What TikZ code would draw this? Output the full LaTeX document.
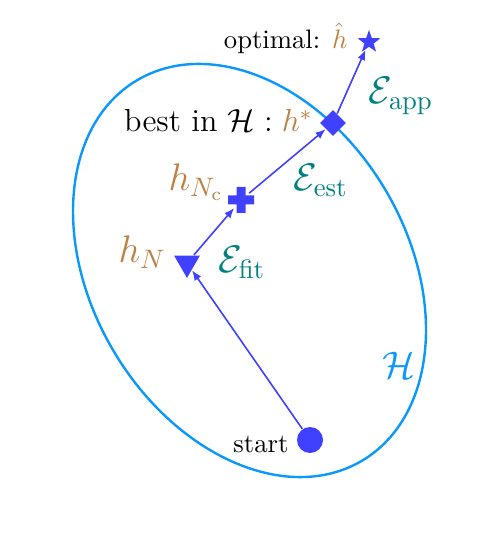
\documentclass[tikz,border=0pt]{standalone}
\usepackage{amsmath}
\usepackage{tikz}
\usetikzlibrary{shapes.geometric, arrows.meta, positioning}
\definecolor{markblue}{RGB}{64,64,255}
\definecolor{hypblue}{RGB}{10,152,250}
\definecolor{hbrown}{RGB}{188,128,66}
\definecolor{errteal}{RGB}{0,128,128}

\begin{document}
\begin{tikzpicture}[
  x=0.375pt, y=-0.375pt,
  startpt/.style={circle, fill=markblue, inner sep=0, minimum size=9.75pt},
  fitpt/.style={regular polygon, regular polygon sides=3, shape border rotate=180,
                fill=markblue, inner sep=0, minimum size=11.2pt},
  estpt/.style={circle, inner sep=0, minimum size=7.5pt},
  bestpt/.style={diamond, aspect=1, fill=markblue, inner sep=0, minimum size=9.75pt},
  optpt/.style={star, star points=5, star point ratio=2.5, fill=markblue,
                inner sep=0, minimum size=9pt},
  arr/.style={-{Latex[length=3.8pt, width=3pt]}, markblue, line width=0.6pt},
  lbl/.style={inner sep=0},
  errlbl/.style={inner sep=0, anchor=base west, font=\Large, text=errteal},
  hlbl/.style={inner sep=0, anchor=base west, font=\Large, text=hbrown},
]
\useasboundingbox (0,0) rectangle (498,543);

% Hypothesis class
\draw[hypblue, line width=0.9pt, rotate around={-59.4:(249.5,270.5)}]
  (249.5,270.5) ellipse [x radius=221, y radius=158];
\node[inner sep=0, anchor=base west, font=\Large, text=hypblue] (hyp) at (382,378) {$\mathcal{H}$};

% Points
\node[startpt] (start) at (310,440) {};
\node[fitpt] (hN) at (187,263) {};
\node[estpt] (hNc) at (241,200) {};
\fill[markblue] (hNc) +(-13,-4.5) rectangle +(13,4.5)
                (hNc) +(-4.5,-13) rectangle +(4.5,13);
\node[bestpt] (hstar) at (333,123) {};
\node[optpt] (hhat) at (369,42) {};

% Steps
\draw[arr] (start) -- (hN);
\draw[arr] (hN) -- (hNc);
\draw[arr] (hNc) -- (hstar);
\draw[arr] (hstar) -- (hhat);

% Labels
\node[lbl, anchor=base east] (startlbl) at (289,452) {start};
\node[lbl, anchor=base east] (optlbl) at (348,49) {optimal: $\color{hbrown}\hat{h}$};
\node[lbl, anchor=base east, font=\large] (bestlbl) at (313,132) {best in $\mathcal{H} : {\color{hbrown}h^*}$};
\node[hlbl] (hNlbl) at (118,263) {$h_N$};
\node[hlbl] (hNclbl) at (168,191) {$h_{N_\mathrm{c}}$};
\node[errlbl] (fitlbl) at (218,273) {$\mathcal{E}_{\mathrm{fit}}$};
\node[errlbl] (estlbl) at (293,191) {$\mathcal{E}_{\mathrm{est}}$};
\node[errlbl] (applbl) at (368,104) {$\mathcal{E}_{\mathrm{app}}$};

\end{tikzpicture}
\end{document}
